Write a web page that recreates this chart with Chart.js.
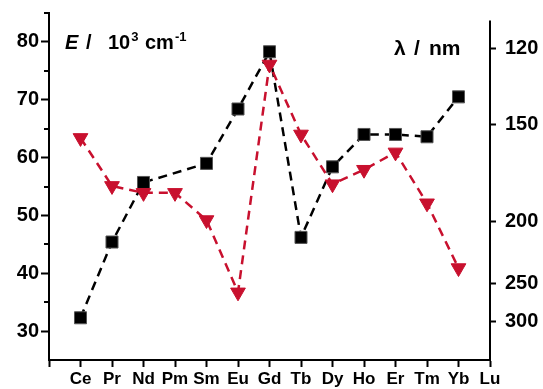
<!DOCTYPE html>
<html>
<head>
<meta charset="utf-8">
<script src="https://cdn.jsdelivr.net/npm/chart.js@4"></script>
<style>
  html, body { margin: 0; padding: 0; background: #ffffff; }
  #wrap { width: 543px; height: 389px; position: relative; }
</style>
</head>
<body>
<div id="wrap"><canvas id="c" width="543" height="389"></canvas></div>
<script>
// ---- data ----
const categories = ['', 'Ce', 'Pr', 'Nd', 'Pm', 'Sm', 'Eu', 'Gd', 'Tb', 'Dy', 'Ho', 'Er', 'Tm', 'Yb', 'Lu'];
const energyValues = [null, 32.3, 45.4, 55.7, null, 59.0, 68.4, 78.3, 46.2, 58.4, 64.0, 64.0, 63.6, 70.5, null];
const redValues = [null, 63.4, 55.1, 53.9, 53.9, 49.2, 36.7, 76.1, 64.0, 55.4, 57.9, 60.9, 52.1, 40.9, null];
const leftMin = 25, leftMax = 85, leftStep = 5;
const rightTickLabels = [120, 150, 200, 250, 300];
const rightTickValues = [78.9, 65.7, 48.9, 38.3, 31.7];
const rightAxisTopValue = 83.7;

const FONT = '"Liberation Sans", Arial, Helvetica, sans-serif';
const RED = '#c8102e';

function zeroPad(s) { s.paddingTop = 0; s.paddingBottom = 0; }

const decorPlugin = {
  id: 'decor',
  afterDraw(chart) {
    const ctx = chart.ctx;
    const y = chart.scales.y;
    const y2 = chart.scales.y2;
    const area = chart.chartArea;
    ctx.save();
    ctx.strokeStyle = '#000';
    ctx.lineWidth = 2;
    // minor ticks on left axis
    for (let v = leftMin + leftStep; v <= leftMax; v += leftStep) {
      if (v % 10 === 0) continue;
      const py = Math.round(y.getPixelForValue(v));
      ctx.beginPath();
      ctx.moveTo(area.left - 5, py);
      ctx.lineTo(area.left, py);
      ctx.stroke();
    }
    // right axis line (shorter than left)
    ctx.beginPath();
    ctx.moveTo(area.right, y2.getPixelForValue(rightAxisTopValue));
    ctx.lineTo(area.right, area.bottom + 1);
    ctx.stroke();

    // in-plot axis titles
    ctx.fillStyle = '#000';
    ctx.textBaseline = 'alphabetic';
    const base = 49;
    const big = 'bold 20px ' + FONT;
    const sup = 'bold 13px ' + FONT;
    ctx.font = 'italic bold 20px ' + FONT;
    ctx.fillText('E', 65, base);
    ctx.font = big;
    ctx.fillText('/', 86, base);
    ctx.fillText('10', 108, base);
    let x = 108 + ctx.measureText('10').width + 1;
    ctx.font = sup;
    ctx.fillText('3', x, base - 8);
    ctx.font = big;
    ctx.fillText('cm', 145, base);
    x = 145 + ctx.measureText('cm').width + 1;
    ctx.font = sup;
    ctx.fillText('-1', x, base - 8);

    ctx.font = 'bold 21px ' + FONT;
    ctx.fillText('\u03bb', 394, 55);
    ctx.fillText('/', 414, 55);
    ctx.fillText('nm', 429, 55);
    ctx.restore();
  }
};

new Chart(document.getElementById('c'), {
  type: 'line',
  data: {
    labels: categories,
    datasets: [
      {
        label: 'λ',
        data: redValues,
        yAxisID: 'y',
        borderColor: RED,
        backgroundColor: RED,
        borderWidth: 2.5,
        borderDash: [9, 6],
        pointStyle: 'triangle',
        rotation: 180,
        pointRadius: 8.5,
        pointHoverRadius: 8.5,
        pointBackgroundColor: RED,
        pointBorderColor: RED,
        pointBorderWidth: 1,
        spanGaps: true,
        tension: 0
      },
      {
        label: 'E',
        data: energyValues,
        yAxisID: 'y',
        borderColor: '#000',
        backgroundColor: '#000',
        borderWidth: 2.5,
        borderDash: [9, 6],
        pointStyle: 'rect',
        pointRadius: 8.5,
        pointHoverRadius: 8.5,
        pointBackgroundColor: '#000',
        pointBorderColor: '#555',
        pointBorderWidth: 1,
        spanGaps: true,
        tension: 0
      }
    ]
  },
  options: {
    responsive: false,
    animation: false,
    events: [],
    layout: { padding: { top: 13, left: 0, right: 0, bottom: 0 } },
    plugins: { legend: { display: false }, tooltip: { enabled: false } },
    scales: {
      x: {
        type: 'category',
        offset: false,
        afterFit(s) { s.height = 29; s.paddingLeft = 0; s.paddingRight = 0; },
        border: { display: true, color: '#000', width: 2 },
        grid: { display: true, drawOnChartArea: false, drawTicks: true, tickLength: 7, tickColor: '#000', tickWidth: 2, offset: false },
        ticks: { color: '#000', font: { family: FONT, size: 17, weight: 'bold' }, padding: 2, autoSkip: false, maxRotation: 0 }
      },
      y: {
        type: 'linear',
        position: 'left',
        min: leftMin,
        max: leftMax,
        afterFit(s) { s.width = 49; zeroPad(s); },
        border: { display: true, color: '#000', width: 2 },
        grid: {
          display: true, drawOnChartArea: false, drawTicks: true, tickLength: 8, tickWidth: 2,
          tickColor: (c) => (c.tick && c.tick.value % 10 === 0) ? '#000' : 'rgba(0,0,0,0)'
        },
        ticks: {
          stepSize: leftStep,
          color: '#000',
          font: { family: FONT, size: 20, weight: 'bold' },
          padding: 2,
          callback: (v) => (v % 10 === 0 ? String(v) : '')
        }
      },
      y2: {
        type: 'linear',
        position: 'right',
        min: leftMin,
        max: leftMax,
        afterFit(s) { s.width = 53; zeroPad(s); },
        afterBuildTicks(s) { s.ticks = rightTickValues.map(v => ({ value: v })); },
        border: { display: false },
        grid: { display: true, drawOnChartArea: false, drawTicks: true, tickLength: 6, tickWidth: 2, tickColor: '#000' },
        ticks: {
          color: '#000',
          font: { family: FONT, size: 20, weight: 'bold' },
          padding: 9,
          callback: (v, i) => String(rightTickLabels[i])
        }
      }
    }
  },
  plugins: [decorPlugin]
});
</script>
</body>
</html>
